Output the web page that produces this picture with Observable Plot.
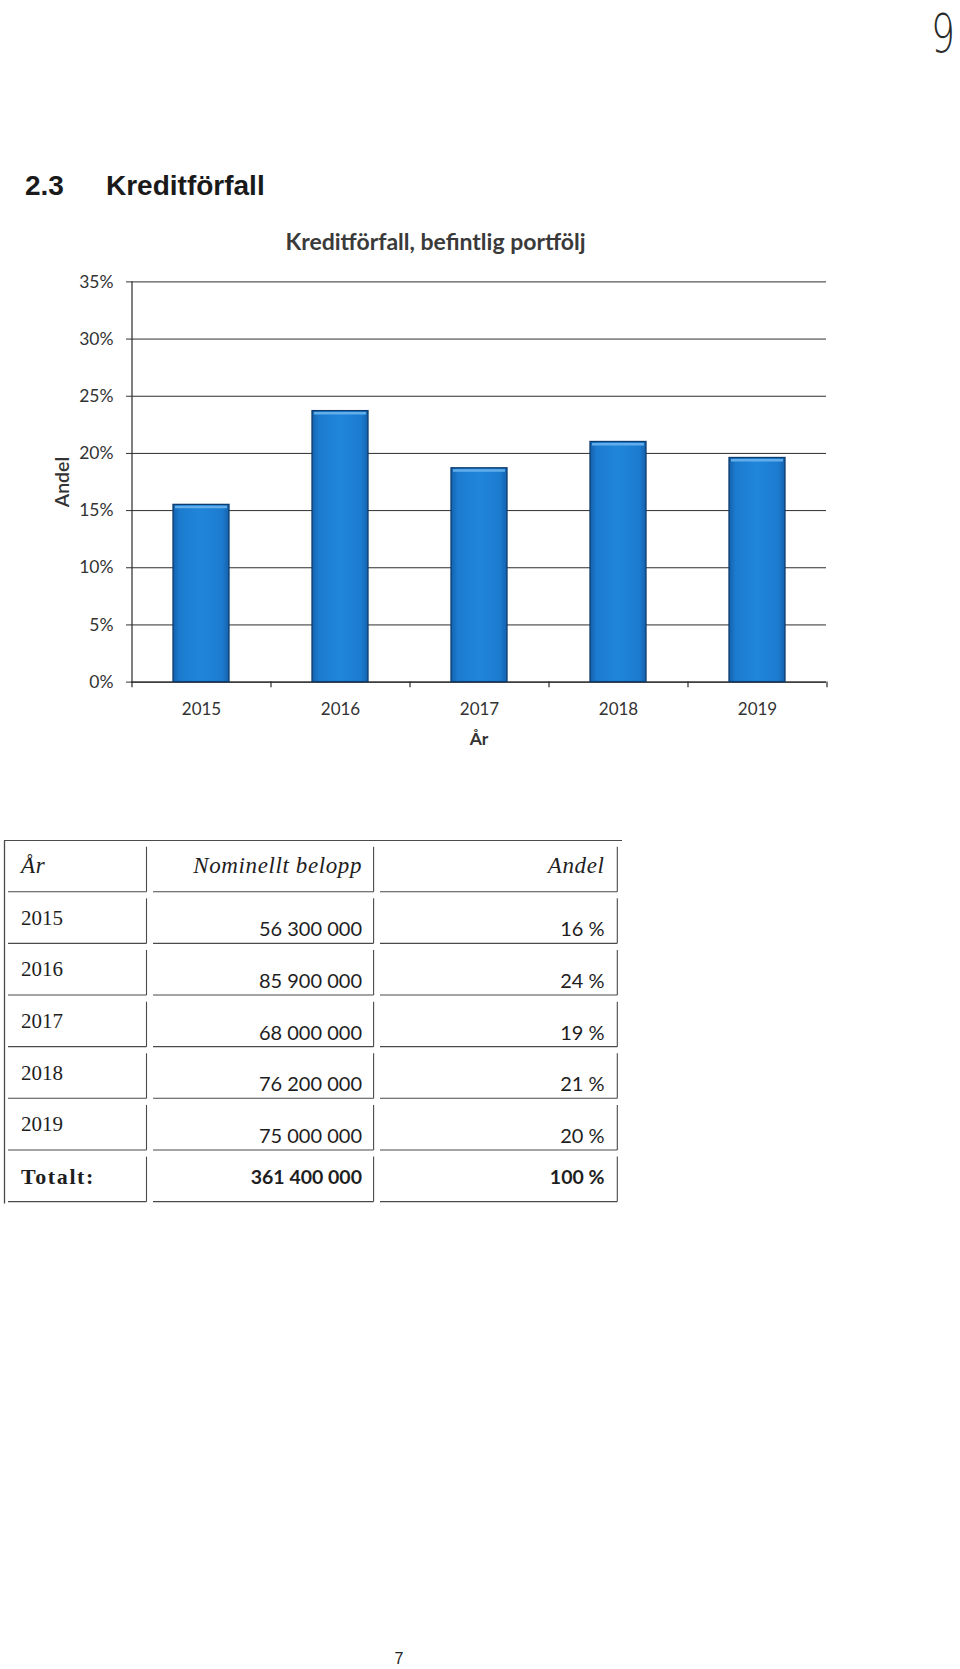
<!DOCTYPE html>
<html><head><meta charset="utf-8">
<script src="https://cdn.jsdelivr.net/npm/d3@7"></script>
<script src="https://cdn.jsdelivr.net/npm/@observablehq/plot@0.6"></script>
<style>
html,body{margin:0;padding:0;background:#fff;}
#page{position:relative;width:960px;height:1669px;overflow:hidden;background:#fff;}
#bg{position:absolute;left:0;top:0;}
#chart{position:absolute;left:0;top:255px;}
</style></head><body><div id="page"></div>
<script>
// ---- data ----
const years = ["2015", "2016", "2017", "2018", "2019"];
const andelDiagram = [0.155, 0.237, 0.187, 0.210, 0.196];
const yTicks = [0, 0.05, 0.10, 0.15, 0.20, 0.25, 0.30, 0.35];
const rubrik = ["2.3", "Kreditförfall"];
const diagramTitel = "Kreditförfall, befintlig portfölj";
const axelY = "Andel";
const axelX = "År";
const tabellRubriker = ["År", "Nominellt belopp", "Andel"];
const nominellt = ["56 300 000", "85 900 000", "68 000 000", "76 200 000", "75 000 000"];
const andelTabell = ["16 %", "24 %", "19 %", "21 %", "20 %"];
const totalRad = ["Totalt:", "361 400 000", "100 %"];
const sidnummer = "7";
const handskrift = "9";

const page = document.getElementById("page");

// ---- background page layer (heading, table, page number) ----
const bg = d3.select(page).append("svg").attr("id", "bg")
  .attr("width", 960).attr("height", 1669);

bg.append("text").attr("x", 25).attr("y", 195)
  .attr("font-family", "Liberation Sans, Arial, sans-serif").attr("font-weight", "bold")
  .attr("font-size", 28).attr("fill", "#1a1a1a").text(rubrik[0]);
bg.append("text").attr("x", 106).attr("y", 195)
  .attr("font-family", "Liberation Sans, Arial, sans-serif").attr("font-weight", "bold")
  .attr("font-size", 28).attr("fill", "#1a1a1a").text(rubrik[1]);

bg.append("text").attr("x", 435.5).attr("y", 250).attr("text-anchor", "middle")
  .attr("font-family", "Lato, sans-serif").attr("font-weight", "bold")
  .attr("font-size", 23).attr("fill", "#3a3a3a").text(diagramTitel);

// handwritten page mark
bg.append("text").attr("x", 0).attr("y", 0).attr("text-anchor", "end")
  .attr("transform", "translate(955,52) scale(0.7,1)")
  .attr("font-family", "DejaVu Sans, sans-serif").attr("font-weight", 200)
  .attr("font-size", 54).attr("fill", "#2a2a2a").text(handskrift);

bg.append("text").attr("x", 399).attr("y", 1664).attr("text-anchor", "middle")
  .attr("font-family", "Liberation Sans, Arial, sans-serif")
  .attr("font-size", 16).attr("fill", "#222").text(sidnummer);

// ---- table ----
const line = "#4a4a4a";
const cols = [[8, 146.5], [153, 373.6], [380, 617.3]];
const rowBottom0 = 891.7, rowPitch = 51.65, cellH = 45;
const tbl = bg.append("g");
const nRows = 1 + years.length + 1;
const tableBottom = rowBottom0 + (nRows - 1) * rowPitch;
tbl.append("line").attr("x1", 4.5).attr("x2", 4.5).attr("y1", 840.5).attr("y2", tableBottom + 2)
  .attr("stroke", line).attr("stroke-width", 1.3);
tbl.append("line").attr("x1", 4).attr("x2", 622).attr("y1", 840.5).attr("y2", 840.5)
  .attr("stroke", line).attr("stroke-width", 1.1);
for (let r = 0; r < nRows; r++) {
  const b = rowBottom0 + r * rowPitch;
  cols.forEach(([l, rt]) => {
    tbl.append("line").attr("x1", l).attr("x2", rt).attr("y1", b).attr("y2", b)
      .attr("stroke", line).attr("stroke-width", 1.1);
    tbl.append("line").attr("x1", rt).attr("x2", rt).attr("y1", b - cellH).attr("y2", b)
      .attr("stroke", line).attr("stroke-width", 1.1);
  });
}
const serif = "Liberation Serif, Times New Roman, serif";
const sans = "Lato, sans-serif";
function t(x, y, s, opts) {
  const e = tbl.append("text").attr("x", x).attr("y", y).text(s)
    .attr("fill", "#1e1e1e")
    .attr("font-family", opts.family).attr("font-size", opts.size)
    .attr("text-anchor", opts.anchor || "start");
  if (opts.italic) e.attr("font-style", "italic");
  if (opts.bold) e.attr("font-weight", "bold");
  if (opts.ls) e.attr("letter-spacing", opts.ls);
}
// header
{
  const b = rowBottom0;
  t(21, b - 19, tabellRubriker[0], {family: serif, size: 23, italic: true, ls: 0.6});
  t(362, b - 19, tabellRubriker[1], {family: serif, size: 23, italic: true, anchor: "end", ls: 0.6});
  t(604.5, b - 19, tabellRubriker[2], {family: serif, size: 23, italic: true, anchor: "end", ls: 0.6});
}
years.forEach((y, i) => {
  const b = rowBottom0 + (i + 1) * rowPitch;
  t(21, b - 18.6, y, {family: serif, size: 21});
  t(362, b - 7, nominellt[i], {family: sans, size: 20, anchor: "end"});
  t(604.5, b - 7, andelTabell[i], {family: sans, size: 20, anchor: "end"});
});
{
  const b = tableBottom;
  t(21, b - 17.6, totalRad[0], {family: serif, size: 22, bold: true, ls: 1.6});
  t(362, b - 17.6, totalRad[1], {family: sans, size: 19.5, bold: true, anchor: "end"});
  t(604.5, b - 17.6, totalRad[2], {family: sans, size: 19.5, bold: true, anchor: "end"});
}

// ---- chart (Observable Plot) ----
const W = 960, H = 505, mL = 131, mR = 134, mT = 26.4, mB = 78.4;
const step = (W - mL - mR) / years.length;
const data = years.map((y, i) => ({year: y, andel: andelDiagram[i]}));
const ink = "#333";

const chart = Plot.plot({
  width: W, height: H,
  marginLeft: mL, marginRight: mR, marginTop: mT, marginBottom: mB,
  style: {fontFamily: "Lato, sans-serif", fontSize: "17px", color: ink, background: "transparent", overflow: "visible"},
  x: {type: "band", domain: years, paddingInner: 0.6, paddingOuter: 0.3},
  y: {domain: [0, 0.35]},
  marks: [
    Plot.ruleY(yTicks, {stroke: "#2e2e2e", strokeWidth: 1}),
    Plot.axisY({ticks: yTicks, tickFormat: d => `${Math.round(d * 100)}%`, tickSize: 5, tickPadding: 13, label: null, fontSize: 17.5, stroke: ink}),
    Plot.axisX({tickSize: 0, tickPadding: 21, label: null, fontSize: 17}),
    Plot.ruleX([years[0]], {dx: -step / 2, y1: -0.005, y2: 0.35, stroke: "#2a2a2a", strokeWidth: 1.2}),
    Plot.ruleX(years.slice(1), {dx: -step / 2, y1: -0.005, y2: 0, stroke: "#2a2a2a", strokeWidth: 1.2}),
    Plot.ruleX([years[years.length - 1]], {dx: step / 2, y1: -0.005, y2: 0, stroke: "#2a2a2a", strokeWidth: 1.2}),
    Plot.ruleY([0], {stroke: "#2a2a2a", strokeWidth: 1.2}),
    Plot.barY(data, {x: "year", y: "andel", fill: "url(#barGrad)", stroke: "#0f3c6e", strokeWidth: 1.3}),
    Plot.tickY(data, {x: "year", y: "andel", stroke: "#62aeea", strokeWidth: 2.5, dy: 2.2, insetLeft: 2, insetRight: 2}),
    Plot.text([axelY], {text: d => d, frameAnchor: "left", dx: -69, rotate: -90, textAnchor: "middle", lineAnchor: "middle", fontWeight: 600, fontSize: 19.5, fill: ink}),
    Plot.text([axelX], {text: d => d, frameAnchor: "bottom", dy: 57.4, textAnchor: "middle", lineAnchor: "middle", fontWeight: "bold", fontSize: 17.5, fill: ink})
  ]
});
chart.id = "chart";
const defs = d3.select(chart).insert("defs", ":first-child");
const g = defs.append("linearGradient").attr("id", "barGrad")
  .attr("x1", 0).attr("x2", 1).attr("y1", 0).attr("y2", 0);
[[0, "#1462ad"], [0.12, "#1c7bcf"], [0.5, "#2086da"], [0.88, "#1c7bcf"], [1, "#1462ad"]]
  .forEach(([o, c]) => g.append("stop").attr("offset", o).attr("stop-color", c));
page.appendChild(chart);
</script>
</body></html>
